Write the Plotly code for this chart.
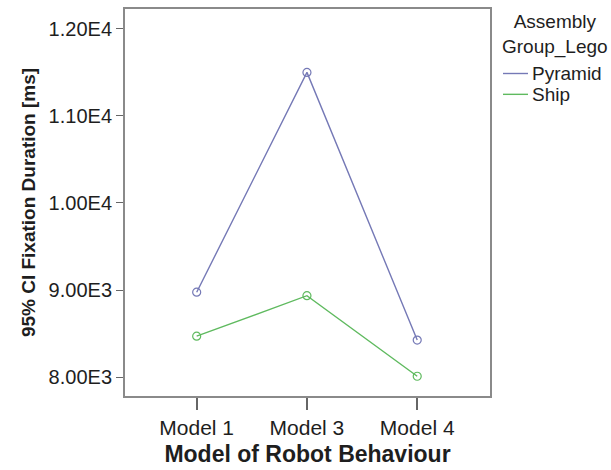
import plotly.graph_objects as go

# Mean fixation duration per robot behaviour model, split by assembly group
models = ["Model 1", "Model 3", "Model 4"]
pyramid = [8975, 11500, 8425]
ship = [8470, 8935, 8010]

y_ticks = [8000, 9000, 10000, 11000, 12000]
y_tick_labels = ["8.00E3", "9.00E3", "1.00E4", "1.10E4", "1.20E4"]

legend_title = "Assembly<br>Group_Lego"

series = [
    ("Pyramid", pyramid, "#7579b6"),
    ("Ship", ship, "#5fba5f"),
]

font_family = "Liberation Sans, Arial, sans-serif"
text_color = "#1e1e1e"

fig = go.Figure()
for name, vals, color in series:
    fig.add_trace(go.Scatter(
        x=models, y=vals, mode="lines+markers", name=name, showlegend=False,
        line=dict(color=color, width=1.4),
        marker=dict(symbol="circle-open", size=8, color=color,
                    line=dict(width=1.2, color=color)),
    ))

# Plot area in pixels: x 125..490, y 7..397 (used for the hand-drawn legend)
L, R, T, B = 125, 490, 7, 397
def px_x(p):
    return (p - L) / (R - L)
def px_y(p):
    return (B - p) / (B - T)

annotations = [
    dict(text=legend_title, xref="paper", yref="paper",
         x=px_x(555), y=px_y(7), xanchor="center", yanchor="top",
         showarrow=False, align="center",
         font=dict(size=19, color=text_color, family=font_family)),
]
shapes = []
legend_rows = [72, 93]
for (name, _, color), row in zip(series, legend_rows):
    shapes.append(dict(type="line", xref="paper", yref="paper",
                       x0=px_x(503), x1=px_x(528), y0=px_y(row), y1=px_y(row),
                       line=dict(color=color, width=1.4)))
    annotations.append(dict(text=name, xref="paper", yref="paper",
                            x=px_x(530), y=px_y(row), xanchor="left",
                            yanchor="middle", showarrow=False,
                            font=dict(size=19, color=text_color,
                                      family=font_family)))

fig.update_layout(
    width=611, height=470,
    margin=dict(l=L, r=611 - R, t=T, b=470 - B),
    paper_bgcolor="white", plot_bgcolor="white",
    font=dict(family=font_family, size=20, color=text_color),
    showlegend=False,
    xaxis=dict(
        type="category", range=[-0.65, 2.66],
        showgrid=False, zeroline=False,
        showline=True, linecolor="#8a8a8a", linewidth=2, mirror=True,
        ticks="outside", ticklen=12, tickcolor="#666", tickwidth=1.5,
        tickfont=dict(size=21, color=text_color),
        title=dict(text="<b>Model of Robot Behaviour</b>",
                   font=dict(size=23, color=text_color), standoff=8),
    ),
    yaxis=dict(
        range=[7783, 12228],
        tickvals=y_ticks, ticktext=y_tick_labels,
        showgrid=False, zeroline=False,
        showline=True, linecolor="#8a8a8a", linewidth=2, mirror=True,
        ticks="outside", ticklen=7, tickcolor="#666", tickwidth=1.2,
        tickfont=dict(size=20, color=text_color),
        title=dict(text="<b>95% CI Fixation Duration [ms]</b>",
                   font=dict(size=19, color=text_color), standoff=8),
    ),
    annotations=annotations,
    shapes=shapes,
)

fig.write_html("out.html")
